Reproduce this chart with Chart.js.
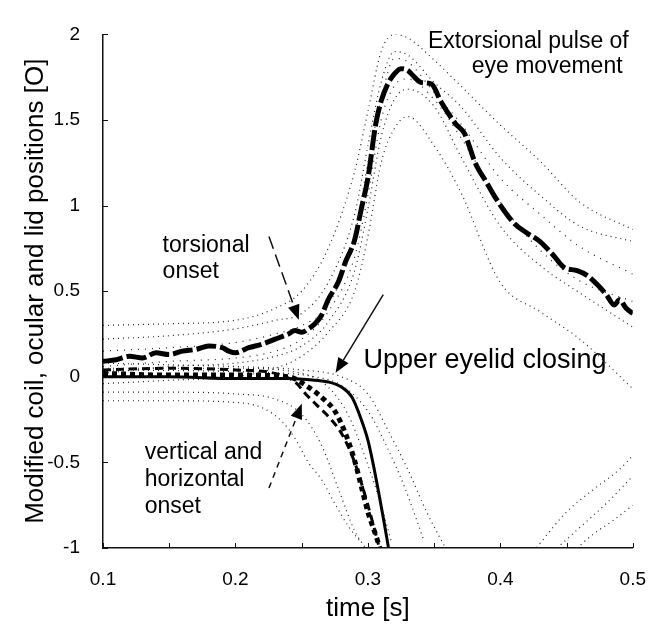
<!DOCTYPE html>
<html>
<head>
<meta charset="utf-8">
<script src="https://cdn.jsdelivr.net/npm/chart.js@4/dist/chart.umd.min.js"></script>
<style>
  html, body { margin: 0; padding: 0; background: #fff; }
  canvas { display: block; }
</style>
</head>
<body>
<canvas id="eyeChart" width="666" height="624"></canvas>
<script>
// mean torsional eye position (thick long dashes)
const torsTime = [0.10, 0.11, 0.12, 0.13, 0.14, 0.15, 0.16, 0.17, 0.18, 0.19, 0.195, 0.20, 0.21, 0.22, 0.23, 0.24, 0.245, 0.25, 0.255, 0.26,
  0.265, 0.27, 0.278, 0.283, 0.29, 0.295, 0.30, 0.306, 0.31, 0.315, 0.32, 0.325, 0.33, 0.334, 0.34, 0.348, 0.355, 0.366, 0.373, 0.381,
  0.39, 0.396, 0.41, 0.42, 0.43, 0.44, 0.448, 0.458, 0.466, 0.473, 0.48, 0.486, 0.49, 0.495, 0.50];
const torsional = [0.09, 0.10, 0.12, 0.11, 0.14, 0.13, 0.15, 0.16, 0.18, 0.17, 0.15, 0.14, 0.17, 0.19, 0.22, 0.25, 0.27, 0.26, 0.28, 0.31,
  0.36, 0.45, 0.56, 0.67, 0.80, 0.98, 1.16, 1.48, 1.61, 1.71, 1.77, 1.80, 1.79, 1.76, 1.72, 1.71, 1.61, 1.48, 1.42, 1.25,
  1.13, 1.05, 0.90, 0.84, 0.79, 0.71, 0.64, 0.62, 0.59, 0.54, 0.48, 0.42, 0.45, 0.40, 0.37];

// upper lid (solid)
const lidTime = [0.10, 0.15, 0.20, 0.24, 0.26, 0.27, 0.28, 0.288, 0.295, 0.30, 0.304, 0.308, 0.312, 0.316];
const lid = [0.00, 0.00, -0.01, -0.01, -0.02, -0.03, -0.06, -0.12, -0.25, -0.37, -0.51, -0.67, -0.84, -1.02];

// vertical (heavy dots) and horizontal (dashed)
const vertTime = [0.10, 0.15, 0.20, 0.24, 0.255, 0.268, 0.275, 0.283, 0.29, 0.295, 0.30, 0.307, 0.31];
const vertical = [0.02, 0.01, 0.01, 0.00, -0.06, -0.14, -0.20, -0.33, -0.49, -0.64, -0.79, -0.95, -1.03];
const horzTime = [0.10, 0.15, 0.20, 0.23, 0.245, 0.253, 0.262, 0.27, 0.28, 0.29, 0.30, 0.308];
const horizontal = [0.04, 0.05, 0.04, 0.02, -0.03, -0.10, -0.17, -0.23, -0.33, -0.50, -0.75, -0.98];

// dotted spread around torsional
const bandTime = [0.10, 0.15, 0.20, 0.23, 0.25, 0.27, 0.29, 0.30, 0.31, 0.32, 0.33, 0.35, 0.37, 0.40, 0.43, 0.46, 0.50];
const torsHi2 = [0.30, 0.31, 0.33, 0.40, 0.50, 0.75, 1.20, 1.55, 1.90, 2.00, 1.98, 1.85, 1.70, 1.47, 1.26, 1.02, 0.86];
const torsHi1 = [0.22, 0.24, 0.28, 0.33, 0.37, 0.55, 0.95, 1.35, 1.72, 1.90, 1.88, 1.72, 1.58, 1.28, 1.06, 0.88, 0.79];
const torsHi0 = [0.15, 0.17, 0.20, 0.25, 0.30, 0.42, 0.82, 1.25, 1.62, 1.86, 1.84, 1.66, 1.48, 1.16, 0.95, 0.76, 0.60];
const torsLo0 = [0.06, 0.09, 0.11, 0.15, 0.22, 0.38, 0.70, 1.06, 1.50, 1.70, 1.74, 1.62, 1.40, 1.02, 0.74, 0.56, 0.44];
const torsLo1 = [0.02, 0.06, 0.08, 0.12, 0.18, 0.32, 0.62, 0.98, 1.40, 1.62, 1.68, 1.58, 1.29, 0.88, 0.65, 0.49, 0.29];
const torsLo2 = [-0.04, -0.02, 0.00, 0.05, 0.12, 0.26, 0.50, 0.82, 1.25, 1.45, 1.52, 1.35, 1.08, 0.55, 0.38, 0.22, -0.07];

// dotted spread around lid / vertical / horizontal
const lidHi2Time = [0.10, 0.15, 0.20, 0.25, 0.28, 0.30, 0.315, 0.33, 0.345, 0.36];
const lidHi2 = [0.08, 0.07, 0.06, 0.04, 0.00, -0.10, -0.31, -0.54, -0.80, -1.02];
const lidHi1Time = [0.10, 0.20, 0.26, 0.28, 0.30, 0.315, 0.328, 0.342];
const lidHi1 = [0.04, 0.03, 0.00, -0.05, -0.20, -0.42, -0.65, -0.95];
const vertMidTime = [0.10, 0.20, 0.25, 0.27, 0.285, 0.297, 0.308, 0.318];
const vertMid = [0.05, 0.05, 0.02, -0.06, -0.22, -0.45, -0.70, -0.97];
const vertLo1Time = [0.10, 0.15, 0.20, 0.23, 0.25, 0.265, 0.278, 0.29, 0.30];
const vertLo1 = [-0.09, -0.09, -0.10, -0.13, -0.22, -0.40, -0.66, -0.90, -1.02];
const vertLo2Time = [0.10, 0.15, 0.20, 0.22, 0.235, 0.245, 0.255, 0.265, 0.275, 0.285, 0.295];
const vertLo2 = [-0.14, -0.14, -0.15, -0.18, -0.26, -0.36, -0.50, -0.60, -0.74, -0.87, -0.97];

// lid reopening traces coming back into range, lower right
const reopen1Time = [0.425, 0.45, 0.47, 0.49, 0.50];
const reopen1 = [-1.02, -0.79, -0.66, -0.54, -0.46];
const reopen2Time = [0.44, 0.46, 0.48, 0.50];
const reopen2 = [-1.02, -0.88, -0.74, -0.58];
const reopen3Time = [0.455, 0.47, 0.485, 0.50];
const reopen3 = [-1.02, -0.92, -0.84, -0.75];

const FONT = '"Liberation Sans", Arial, sans-serif';

const toPts = (ts, vs) => ts.map((t, i) => ({ x: t, y: vs[i] }));

function dotted(ts, vs, gap) {
    return {
        data: toPts(ts, vs),
        borderColor: '#222',
        borderWidth: 1.2,
        borderDash: [1, gap || 4],
        pointRadius: 0,
        cubicInterpolationMode: 'monotone'
    };
}

function mean(ts, vs, width, dash) {
    return {
        data: toPts(ts, vs),
        borderColor: '#000',
        borderWidth: width,
        borderDash: dash,
        pointRadius: 0,
        cubicInterpolationMode: 'monotone'
    };
}

// annotation text and arrows, given in data units
const notes = [
    { text: 'Extorsional pulse of', t: 0.3454, v: 1.921, size: 23 },
    { text: 'eye movement', t: 0.3784, v: 1.774, size: 23 },
    { text: 'torsional', t: 0.145, v: 0.729, size: 23 },
    { text: 'onset', t: 0.145, v: 0.576, size: 23 },
    { text: 'Upper eyelid closing', t: 0.2966, v: 0.051, size: 27 },
    { text: 'vertical and', t: 0.1315, v: -0.480, size: 23 },
    { text: 'horizontal', t: 0.1315, v: -0.638, size: 23 },
    { text: 'onset', t: 0.1315, v: -0.797, size: 23 }
];
const arrows = [
    { from: [0.2253, 0.819], to: [0.2478, 0.333], dash: [13, 6] },
    { from: [0.3116, 0.480], to: [0.2756, 0.023], dash: [] },
    { from: [0.2253, -0.650], to: [0.2501, -0.158], dash: [6, 5] }
];

function drawArrow(ctx, x0, y0, x1, y1, dash) {
    const ang = Math.atan2(y1 - y0, x1 - x0);
    const head = 15, half = 6;
    const bx = x1 - head * Math.cos(ang);
    const by = y1 - head * Math.sin(ang);
    ctx.setLineDash(dash);
    ctx.lineWidth = 1.5;
    ctx.beginPath();
    ctx.moveTo(x0, y0);
    ctx.lineTo(bx, by);
    ctx.stroke();
    ctx.setLineDash([]);
    ctx.beginPath();
    ctx.moveTo(x1, y1);
    ctx.lineTo(bx + half * Math.sin(ang), by - half * Math.cos(ang));
    ctx.lineTo(bx - half * Math.sin(ang), by + half * Math.cos(ang));
    ctx.closePath();
    ctx.fill();
}

const overlay = {
    id: 'overlay',
    afterDraw(chart) {
        const { ctx, chartArea } = chart;
        const x = chart.scales.x, y = chart.scales.y;
        ctx.save();
        ctx.strokeStyle = '#111';
        ctx.fillStyle = '#000';

        // inward tick marks
        ctx.lineWidth = 1;
        x.ticks.forEach(function(tk) {
            const px = Math.round(x.getPixelForValue(tk.value)) + 0.5;
            ctx.beginPath();
            ctx.moveTo(px, chartArea.bottom);
            ctx.lineTo(px, chartArea.bottom - 5);
            ctx.stroke();
        });
        y.ticks.forEach(function(tk) {
            const py = Math.round(y.getPixelForValue(tk.value)) + 0.5;
            ctx.beginPath();
            ctx.moveTo(chartArea.left, py);
            ctx.lineTo(chartArea.left + 5, py);
            ctx.stroke();
        });

        arrows.forEach(function(a) {
            drawArrow(ctx,
                x.getPixelForValue(a.from[0]), y.getPixelForValue(a.from[1]),
                x.getPixelForValue(a.to[0]), y.getPixelForValue(a.to[1]),
                a.dash);
        });

        ctx.textAlign = 'left';
        ctx.textBaseline = 'alphabetic';
        notes.forEach(function(n) {
            ctx.font = n.size + 'px ' + FONT;
            ctx.fillText(n.text, x.getPixelForValue(n.t), y.getPixelForValue(n.v));
        });
        ctx.restore();
    }
};

const ctxEye = document.getElementById('eyeChart').getContext('2d');

new Chart(ctxEye, {
    type: 'line',
    data: {
        datasets: [
            dotted(bandTime, torsHi2),
            dotted(bandTime, torsHi1),
            dotted(bandTime, torsHi0, 6),
            dotted(bandTime, torsLo0, 6),
            dotted(bandTime, torsLo1),
            dotted(bandTime, torsLo2),
            dotted(lidHi2Time, lidHi2),
            dotted(lidHi1Time, lidHi1),
            dotted(vertMidTime, vertMid),
            dotted(vertLo1Time, vertLo1),
            dotted(vertLo2Time, vertLo2),
            dotted(reopen1Time, reopen1),
            dotted(reopen2Time, reopen2),
            dotted(reopen3Time, reopen3),
            mean(horzTime, horizontal, 3, [8, 5]),
            mean(vertTime, vertical, 5, [5, 4]),
            mean(lidTime, lid, 3, []),
            mean(torsTime, torsional, 5, [20, 4])
        ]
    },
    options: {
        responsive: false,
        animation: false,
        layout: {
            padding: { top: 17, right: 30, left: 0, bottom: 0 }
        },
        plugins: {
            legend: { display: false },
            tooltip: { enabled: false }
        },
        scales: {
            x: {
                type: 'linear',
                min: 0.1,
                max: 0.5,
                grid: { display: false, drawTicks: false },
                border: { display: true, color: '#111', width: 1.5 },
                ticks: {
                    stepSize: 0.05,
                    padding: 20,
                    color: '#000',
                    maxRotation: 0,
                    autoSkip: false,
                    font: { size: 19, family: FONT },
                    callback: function(v) {
                        return Math.round(v * 100) % 10 === 0 ? String(+v.toFixed(1)) : '';
                    }
                },
                title: {
                    display: true,
                    text: 'time [s]',
                    color: '#000',
                    font: { size: 26, family: FONT },
                    padding: 0
                },
                afterFit: function(scale) { scale.height = 76; }
            },
            y: {
                min: -1,
                max: 2,
                grid: { display: false, drawTicks: false },
                border: { display: true, color: '#111', width: 1.5 },
                ticks: {
                    stepSize: 0.5,
                    padding: 23,
                    color: '#000',
                    font: { size: 19, family: FONT },
                    callback: function(v) { return String(v); }
                },
                title: {
                    display: true,
                    text: 'Modified coil, ocular and lid positions [O]',
                    color: '#000',
                    font: { size: 26, family: FONT },
                    padding: { top: 20, bottom: 0 }
                },
                afterFit: function(scale) { scale.width = 103; }
            }
        }
    },
    plugins: [overlay]
});
</script>
</body>
</html>
